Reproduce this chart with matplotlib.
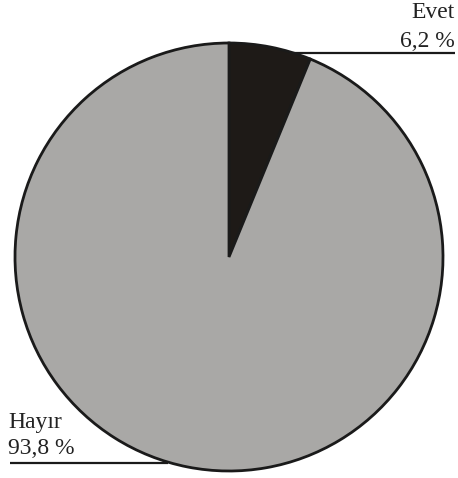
import matplotlib
matplotlib.use("Agg")
import matplotlib.pyplot as plt

labels = ["Evet", "Hayır"]
values = [6.2, 93.8]
colors = ["#1e1a17", "#a9a8a6"]

W, H = 458, 478
fig = plt.figure(figsize=(W / 100, H / 100), dpi=100)
ax = fig.add_axes([0, 0, 1, 1])

cx, cy, r = 229, H - 257, 214
ax.pie(values, colors=colors, startangle=90, counterclock=False,
       center=(cx, cy), radius=r,
       wedgeprops=dict(edgecolor="#1a1a1a", linewidth=2.0))

ax.set_xlim(0, W)
ax.set_ylim(0, H)
ax.set_aspect("equal")
ax.axis("off")

font = dict(family="Liberation Serif", fontsize=17, color="#222222")

# leader lines
ax.plot([292, 455], [H - 53, H - 53], color="#1a1a1a", lw=1.6, solid_capstyle="butt", zorder=0.5)
ax.plot([10, 168], [H - 463, H - 463], color="#1a1a1a", lw=1.6, solid_capstyle="butt", zorder=0.5)

def pct(v):
    return f"{v:.1f}".replace(".", ",") + " %"

ax.text(455, H - 18, labels[0], ha="right", va="baseline", **font)
ax.text(455, H - 47, pct(values[0]), ha="right", va="baseline", **font)
ax.text(8, H - 428, labels[1], ha="left", va="baseline", **font)
ax.text(8, H - 454, pct(values[1]), ha="left", va="baseline", **font)

fig.savefig("out.png", dpi=100)
